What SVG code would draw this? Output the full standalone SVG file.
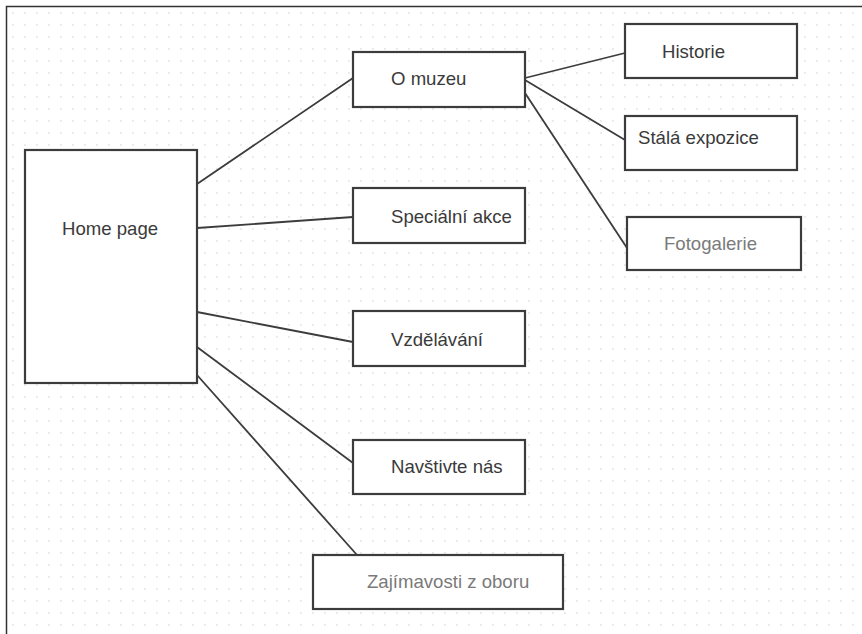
<svg xmlns="http://www.w3.org/2000/svg" width="862" height="634" viewBox="0 0 862 634">
<defs>
<pattern id="dots" x="7" y="7" width="12" height="12" patternUnits="userSpaceOnUse">
<circle cx="6" cy="6" r="1" fill="#e4e4e4"/>
</pattern>
<style>
.box{fill:#fff;stroke:#3c3c3c;stroke-width:2.2}
.lbl{font-family:"Liberation Sans",Arial,sans-serif;font-size:18.6px;fill:#3a3a3a}
.gray{fill:#7a7a7a}
.conn line{stroke:#3c3c3c;stroke-width:1.8}
</style>
</defs>
<rect x="0" y="0" width="862" height="634" fill="#fff"/>
<rect x="7" y="7" width="855" height="627" fill="url(#dots)"/>
<path d="M6.5 634 V6.5 H862" fill="none" stroke="#333" stroke-width="1.5"/>
<g id="connectors" class="conn">
<line x1="197" y1="184" x2="353" y2="78"/>
<line x1="197" y1="228" x2="353" y2="217"/>
<line x1="197" y1="312" x2="353" y2="342"/>
<line x1="197" y1="347" x2="353" y2="463"/>
<line x1="197" y1="375" x2="357" y2="555"/>
<line x1="525" y1="78" x2="625" y2="53"/>
<line x1="525" y1="80" x2="625" y2="140"/>
<line x1="525" y1="93" x2="627" y2="248"/>
</g>
<g id="home"><rect class="box" x="25" y="150" width="172" height="233"/><text class="lbl" x="62" y="235">Home page</text></g>
<g id="omuzeu"><rect class="box" x="353" y="52" width="172" height="55"/><text class="lbl" x="391" y="85">O muzeu</text></g>
<g id="specialni"><rect class="box" x="353" y="188" width="172" height="55"/><text class="lbl" x="391" y="223">Speciální akce</text></g>
<g id="vzdelavani"><rect class="box" x="353" y="311" width="172" height="55"/><text class="lbl" x="391" y="346">Vzdělávání</text></g>
<g id="navstivte"><rect class="box" x="353" y="440" width="172" height="54"/><text class="lbl" x="391" y="473">Navštivte nás</text></g>
<g id="zajimavosti"><rect class="box" x="313" y="555" width="250" height="54"/><text class="lbl gray" x="367" y="588">Zajímavosti z oboru</text></g>
<g id="historie"><rect class="box" x="625" y="24" width="172" height="54"/><text class="lbl" x="662" y="58">Historie</text></g>
<g id="stala"><rect class="box" x="625" y="116" width="172" height="54"/><text class="lbl" x="638" y="144">Stálá expozice</text></g>
<g id="fotogalerie"><rect class="box" x="627" y="217" width="174" height="53"/><text class="lbl gray" x="664" y="250">Fotogalerie</text></g>
</svg>
